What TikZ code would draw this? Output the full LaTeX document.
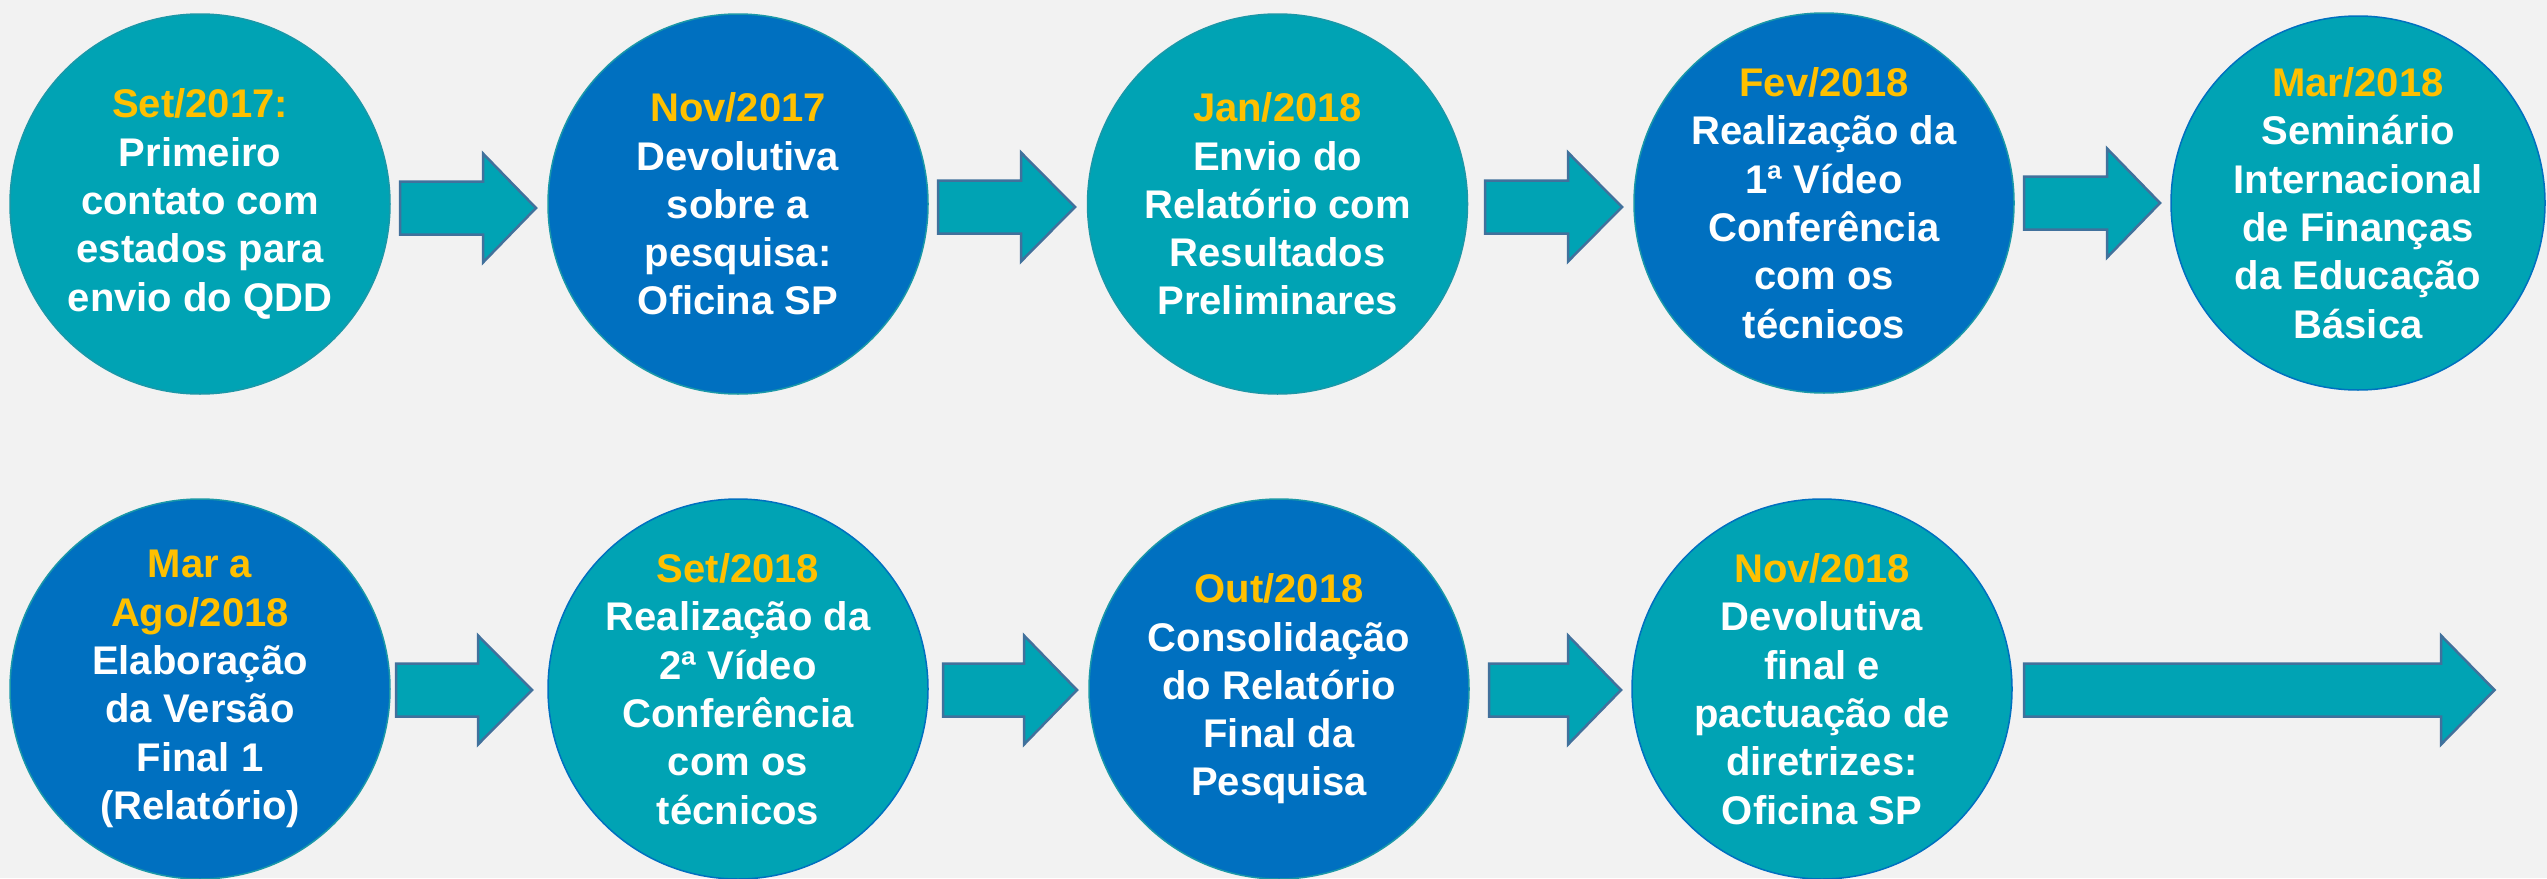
\documentclass[tikz,border=0pt]{standalone}
\usepackage{fontspec}
\setmainfont{Liberation Sans}
\definecolor{bg}{HTML}{F2F2F2}
\definecolor{teal1}{HTML}{00A3B4}
\definecolor{blue1}{HTML}{0070C0}
\definecolor{gold1}{HTML}{FFC000}
\definecolor{aline}{HTML}{41719C}
\definecolor{tline}{HTML}{1A98A8}
\tikzset{
  evt/.style={circle, minimum size=380pt, inner sep=0pt, align=center, text=white,
    font=\fontsize{40}{48.3}\selectfont\bfseries, line width=1.5pt},
  evtteal/.style={evt, fill=teal1, draw=blue1},
  evtblue/.style={evt, fill=blue1, draw=tline},
  blk/.style={fill=teal1, draw=aline, line width=2.5pt, line join=miter},
}
\newcommand{\yr}[1]{\textcolor{gold1}{#1}}
% block arrow: body-left x, head-base x, tip x, centre y
\newcommand{\blkarrow}[4]{%
  \draw[blk] (#1,#4-26.5) -- (#2,#4-26.5) -- (#2,#4-54.5) -- (#3,#4)
    -- (#2,#4+54.5) -- (#2,#4+26.5) -- (#1,#4+26.5) -- cycle;}
\begin{document}
\begin{tikzpicture}[x=1pt,y=-1pt]
\fill[bg] (0,0) rectangle (2547,878);
\useasboundingbox (0,0) rectangle (2547,878);

% top row
\node[evtteal, draw=tline] (c1) at (200,204) {\yr{Set/2017:}\\Primeiro\\contato com\\estados para\\envio do QDD};
\node[evtblue] (c2) at (738,204) {\yr{Nov/2017}\\Devolutiva\\sobre a\\pesquisa:\\Oficina SP};
\node[evtteal, draw=tline] (c3) at (1277.5,204) {\yr{Jan/2018}\\Envio do\\Relatório com\\Resultados\\Preliminares};
\node[evtblue] (c4) at (1824,203) {\yr{Fev/2018}\\Realização da\\1ª Vídeo\\Conferência\\com os\\técnicos};
\node[evtteal, minimum size=374pt] (c5) at (2358,203) {\yr{Mar/2018}\\Seminário\\Internacional\\de Finanças\\da Educação\\Básica};

% bottom row
\node[evtblue] (c6) at (200,689) {\yr{Mar a}\\\yr{Ago/2018}\\Elaboração\\da Versão\\Final 1\\(Relatório)};
\node[evtteal] (c7) at (738,689) {\yr{Set/2018}\\Realização da\\2ª Vídeo\\Conferência\\com os\\técnicos};
\node[evtblue] (c8) at (1279,689) {\yr{Out/2018}\\Consolidação\\do Relatório\\Final da\\Pesquisa};
\node[evtteal] (c9) at (1822,689) {\yr{Nov/2018}\\Devolutiva\\final e\\pactuação de\\diretrizes:\\Oficina SP};

% block arrows
\blkarrow{400}{483}{536}{208}
\blkarrow{938}{1021}{1075}{207}
\blkarrow{1485}{1568}{1622}{207}
\blkarrow{2024}{2107}{2160}{203}
\blkarrow{396}{478}{532}{690}
\blkarrow{943}{1024}{1077}{690}
\blkarrow{1489}{1568}{1621}{690}
\blkarrow{2024}{2441}{2494.5}{690}
\end{tikzpicture}
\end{document}
